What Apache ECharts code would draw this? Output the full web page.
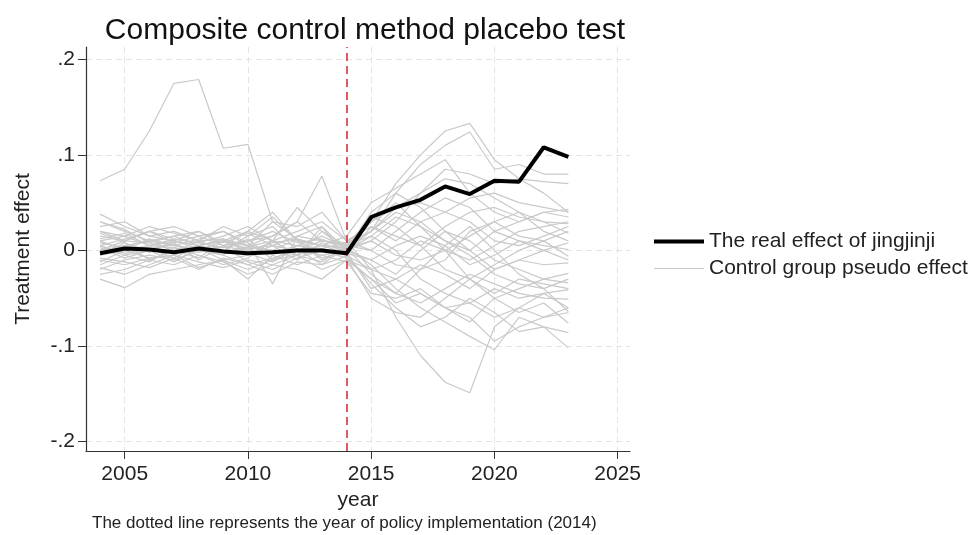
<!DOCTYPE html>
<html>
<head>
<meta charset="utf-8">
<script src="https://cdn.jsdelivr.net/npm/echarts@6/dist/echarts.min.js"></script>
<style>
html,body{margin:0;padding:0;background:#fff;}
#chart{width:979px;height:535px;}
</style>
</head>
<body>
<div id="chart"></div>
<script>
const years = [2004,2005,2006,2007,2008,2009,2010,2011,2012,2013,2014,2015,2016,2017,2018,2019,2020,2021,2022,2023];
const xTicks = [2005,2010,2015,2020,2025];
const yTicks = [-0.2,-0.1,0,0.1,0.2];
const policyYear = 2014;

const realEffect = [-0.003,0.002,0.001,-0.002,0.002,-0.001,-0.003,-0.002,0.000,0.000,-0.003,0.035,0.045,0.053,0.067,0.059,0.073,0.072,0.108,0.098];

const c01 = [0.073,0.085,0.125,0.175,0.179,0.107,0.111,0.030,0.012,0.005,0.002,0.020,0.045,0.060,0.075,0.070,0.055,0.040,0.030,0.028];
const c02 = [0.010,0.015,0.005,0.012,0.008,0.003,0.010,0.015,0.030,0.078,0.010,-0.020,-0.030,-0.045,-0.060,-0.055,-0.040,-0.050,-0.045,-0.060];
const c03 = [0.020,0.010,0.008,0.000,0.005,0.010,0.002,0.005,0.000,0.010,0.005,0.030,0.070,0.100,0.125,0.133,0.095,0.075,0.060,0.040];
const c04 = [-0.005,0.000,0.005,0.003,-0.002,0.004,0.000,-0.003,0.005,0.002,0.008,0.020,0.060,0.090,0.110,0.124,0.085,0.090,0.080,0.080];
const c05 = [0.005,-0.003,0.002,0.006,0.000,-0.004,0.003,0.000,-0.005,0.002,-0.005,-0.020,-0.070,-0.110,-0.138,-0.149,-0.080,-0.060,-0.070,-0.065];
const c06 = [0.030,0.020,0.010,0.015,0.005,0.010,0.000,0.008,0.012,0.005,0.003,-0.015,-0.040,-0.060,-0.075,-0.090,-0.104,-0.070,-0.080,-0.102];
const c07 = [0.038,0.025,0.015,0.010,0.005,0.000,-0.005,0.010,0.005,0.000,-0.008,-0.030,-0.055,-0.045,-0.060,-0.075,-0.050,-0.065,-0.055,-0.076];
const c08 = [-0.030,-0.039,-0.025,-0.020,-0.015,-0.010,-0.020,-0.010,-0.005,-0.012,0.005,0.020,0.040,0.030,0.010,0.000,0.020,0.030,0.040,0.035];
const c09 = [-0.020,-0.010,-0.005,-0.010,0.000,-0.005,-0.015,-0.008,0.000,-0.005,0.000,0.010,0.030,0.060,0.085,0.080,0.070,0.075,0.072,0.070];
const c10 = [0.000,0.005,0.010,0.005,0.012,0.020,0.008,-0.035,0.015,0.025,0.000,-0.010,-0.025,0.000,0.020,0.010,-0.010,-0.020,-0.030,-0.034];
const c11 = [0.015,0.010,0.020,0.012,0.008,0.015,0.025,0.010,0.020,0.030,0.010,0.025,0.015,0.005,0.025,0.040,0.045,0.035,0.030,0.018];
const c12 = [-0.010,-0.015,-0.008,-0.005,-0.012,-0.018,-0.010,-0.015,-0.005,-0.020,-0.010,-0.030,-0.045,-0.055,-0.040,-0.025,-0.035,-0.045,-0.050,-0.051];
const c13 = [0.005,0.012,0.020,0.008,0.015,0.005,0.010,0.020,0.008,0.012,0.000,0.040,0.060,0.045,0.020,0.000,-0.020,-0.010,0.000,0.008];
const c14 = [0.025,0.030,0.015,0.020,0.010,0.025,0.015,0.035,0.010,0.005,0.015,0.050,0.065,0.080,0.095,0.060,0.040,0.030,0.040,0.043];
const c15 = [-0.025,-0.020,-0.010,-0.015,-0.005,-0.012,-0.025,-0.015,-0.020,-0.030,-0.010,-0.020,-0.010,0.010,0.000,-0.030,-0.050,-0.040,-0.030,-0.024];
const c16 = [0.010,0.000,-0.008,-0.005,0.005,-0.002,0.004,0.010,-0.005,0.020,0.005,0.000,0.020,0.040,0.055,0.045,0.020,0.010,0.005,0.001];
const c17 = [-0.015,-0.005,0.000,0.008,-0.010,0.005,-0.012,-0.020,-0.008,0.000,-0.005,-0.035,-0.060,-0.080,-0.070,-0.050,-0.065,-0.085,-0.080,-0.086];
const c18 = [0.020,0.015,0.025,0.018,0.010,0.012,0.005,0.030,0.025,0.040,0.010,0.000,-0.015,-0.020,-0.010,0.020,0.030,0.015,0.010,-0.006];
const c19 = [-0.005,0.008,-0.010,0.000,-0.008,0.010,0.005,0.000,0.012,-0.008,0.000,0.030,0.050,0.025,0.000,-0.010,0.005,0.020,0.025,0.030];
const c20 = [0.003,-0.008,0.000,-0.012,0.002,-0.010,-0.005,0.005,-0.010,0.008,-0.002,-0.040,-0.030,-0.015,-0.025,-0.040,-0.020,-0.010,-0.015,-0.013];
const c21 = [0.012,0.018,0.005,0.010,0.020,0.008,0.018,0.005,0.015,0.010,0.006,0.015,0.000,-0.030,-0.045,-0.055,-0.070,-0.060,-0.045,-0.041];
const c22 = [-0.008,-0.012,-0.018,-0.008,-0.020,-0.008,-0.015,-0.025,-0.012,-0.015,-0.006,0.025,0.010,0.030,0.040,0.030,0.010,0.005,0.015,0.025];
const c23 = [0.008,0.003,0.012,-0.002,0.010,0.000,0.012,-0.010,0.005,0.015,0.003,-0.025,-0.045,-0.020,0.005,0.025,0.000,-0.025,-0.040,-0.064];
const c24 = [0.000,0.010,0.020,0.025,0.015,0.020,0.005,0.015,0.030,0.010,0.008,0.030,0.045,0.050,0.040,0.055,0.060,0.050,0.045,0.040];
const c25 = [0.030,0.022,0.008,0.015,0.020,0.005,0.020,0.010,-0.005,0.025,-0.008,-0.050,-0.065,-0.070,-0.050,-0.030,-0.045,-0.030,-0.035,-0.040];
const c26 = [-0.012,0.000,0.012,0.005,0.000,0.010,0.020,0.040,0.010,-0.010,0.002,0.010,-0.005,-0.010,0.000,0.015,0.030,0.040,0.020,0.010];
const c27 = [0.005,-0.005,-0.012,0.003,-0.005,-0.015,-0.008,0.010,0.045,0.020,0.000,0.015,0.035,0.025,0.010,-0.005,-0.025,-0.035,-0.040,-0.030];
const c28 = [-0.003,0.005,0.002,-0.008,0.005,0.012,-0.003,-0.012,0.002,-0.015,0.004,0.035,0.025,0.005,-0.020,-0.030,-0.015,0.000,0.010,0.020];
const c29 = [0.018,0.008,-0.002,0.010,0.002,0.000,0.015,0.025,0.000,0.005,-0.003,-0.010,0.005,0.015,0.005,-0.015,-0.005,0.010,0.000,-0.010];
const c30 = [-0.018,-0.025,-0.015,-0.005,-0.018,-0.010,-0.030,-0.005,-0.015,-0.005,-0.012,-0.045,-0.050,-0.040,-0.060,-0.070,-0.095,-0.080,-0.070,-0.060];
const controls = [c01,c02,c03,c04,c05,c06,c07,c08,c09,c10,c11,c12,c13,c14,c15,c16,c17,c18,c19,c20,c21,c22,c23,c24,c25,c26,c27,c28,c29,c30];

const REAL = 'The real effect of jingjinji';
const CTRL = 'Control group pseudo effect';
const FONT = '"Liberation Sans", Arial, sans-serif';

const pair = arr => years.map((y, i) => [y, arr[i]]);

const series = controls.map(arr => ({
  name: CTRL,
  type: 'line',
  data: pair(arr),
  symbol: 'none',
  lineStyle: { color: '#c9c9c9', width: 1.2 },
  itemStyle: { color: '#c9c9c9' },
  silent: true,
  z: 2
}));
series.push({
  name: REAL,
  type: 'line',
  data: pair(realEffect),
  symbol: 'none',
  lineStyle: { color: '#000', width: 4 },
  itemStyle: { color: '#000' },
  z: 5,
  markLine: {
    silent: true,
    symbol: 'none',
    label: { show: false },
    lineStyle: { color: '#d2323c', width: 1.6, type: [8, 5] },
    data: [{ xAxis: policyYear }]
  }
});

const fmtY = v => {
  if (Math.abs(v) < 1e-9) return '0';
  const s = (Math.abs(v)).toFixed(1).replace(/^0/, '');
  return (v < 0 ? '-' : '') + s;
};

const chart = echarts.init(document.getElementById('chart'), null, { renderer: 'canvas' });
chart.setOption({
  animation: false,
  backgroundColor: '#fff',
  textStyle: { fontFamily: FONT },
  title: {
    text: 'Composite control method placebo test',
    left: 360,
    top: 11,
    textAlign: 'center',
    textStyle: { fontFamily: FONT, fontSize: 30, fontWeight: 'normal', color: '#111' }
  },
  grid: { left: 86, right: 349, top: 47, bottom: 84, containLabel: false },
  legend: {
    orient: 'vertical',
    left: 647,
    top: 226,
    itemWidth: 50,
    itemHeight: 14,
    itemGap: 6,
    data: [
      { name: REAL, lineStyle: { width: 4, color: '#000' } },
      { name: CTRL, lineStyle: { width: 1.2, color: '#c9c9c9' } }
    ],
    itemStyle: { opacity: 0, borderWidth: 0 },
    textStyle: { fontFamily: FONT, fontSize: 21, color: '#222' },
    selectedMode: false
  },
  xAxis: {
    type: 'value',
    min: 2003.43,
    max: 2025.5,
    name: 'year',
    nameLocation: 'middle',
    nameGap: 38,
    nameTextStyle: { fontFamily: FONT, fontSize: 21, color: '#222' },
    axisLine: { show: true, onZero: false, lineStyle: { color: '#333', width: 1.2 } },
    axisTick: { show: true, length: 8, customValues: xTicks, lineStyle: { color: '#333' } },
    axisLabel: { customValues: xTicks, margin: 13, fontFamily: FONT, fontSize: 21, color: '#222', formatter: v => String(v) },
    splitLine: { show: true, lineStyle: { color: '#e4e4e4', width: 1, type: [6, 4] } }
  },
  yAxis: {
    type: 'value',
    min: -0.21,
    max: 0.213,
    name: 'Treatment effect',
    nameLocation: 'middle',
    nameRotate: 90,
    nameGap: 52,
    nameTextStyle: { fontFamily: FONT, fontSize: 21, color: '#222' },
    axisLine: { show: true, onZero: false, lineStyle: { color: '#333', width: 1.2 } },
    axisTick: { show: true, length: 8, customValues: yTicks, lineStyle: { color: '#333' } },
    axisLabel: { customValues: yTicks, margin: 11, fontFamily: FONT, fontSize: 21, color: '#222', formatter: fmtY },
    splitLine: { show: true, lineStyle: { color: '#e4e4e4', width: 1, type: [6, 4] } }
  },
  graphic: [{
    type: 'text',
    left: 92,
    top: 515,
    style: {
      text: 'The dotted line represents the year of policy implementation (2014)',
      fontFamily: FONT,
      fontSize: 17,
      fill: '#222'
    }
  }],
  series: series
});
</script>
</body>
</html>
